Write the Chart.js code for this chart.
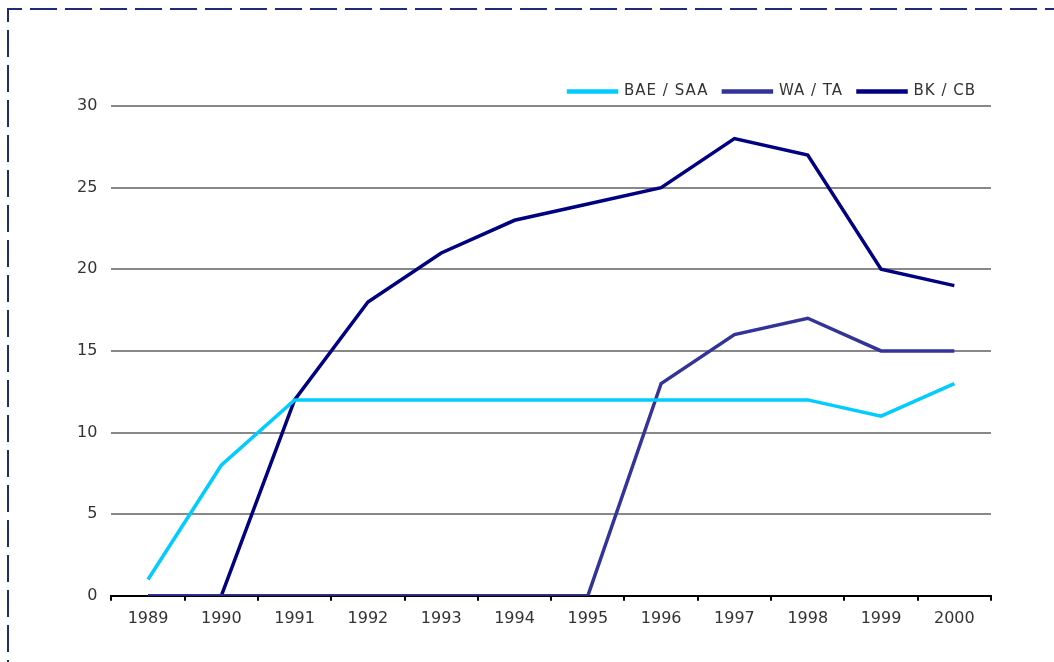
<!DOCTYPE html>
<html>
<head>
<meta charset="utf-8">
<script src="https://cdn.jsdelivr.net/npm/chart.js@4/dist/chart.umd.min.js"></script>
<style>
  html, body { margin: 0; padding: 0; background: #fff; }
  #wrap { position: relative; width: 1054px; height: 662px; }
</style>
</head>
<body>
<div id="wrap"><canvas id="c" width="1054" height="662"></canvas></div>
<script>
const categories = ['1989','1990','1991','1992','1993','1994','1995','1996','1997','1998','1999','2000'];
const baeSaa = [1, 8, 12, 12, 12, 12, 12, 12, 12, 12, 11, 13];
const waTa   = [0, 0, 0, 0, 0, 0, 0, 13, 16, 17, 15, 15];
const bkCb   = [0, 0, 12, 18, 21, 23, 24, 25, 28, 27, 20, 19];
const seriesNames = ['BAE / SAA', 'WA / TA', 'BK / CB'];
const seriesColors = ['#00ccff', '#333399', '#000080'];

const frame = {
  id: 'frame',
  afterDraw(chart) {
    const ctx = chart.ctx;
    ctx.save();
    ctx.strokeStyle = '#1f2a78';
    ctx.lineWidth = 2;
    ctx.setLineDash([27, 8]);
    ctx.lineDashOffset = 13;
    ctx.beginPath();
    ctx.moveTo(8, 9);
    ctx.lineTo(1060, 9);
    ctx.stroke();
    ctx.beginPath();
    ctx.moveTo(8, 8);
    ctx.lineTo(8, 670);
    ctx.stroke();
    ctx.restore();
  }
};

// Letter-spaced legend with a fixed box height
const legendTweak = {
  id: 'legendTweak',
  beforeLayout(chart) {
    const lg = chart.legend;
    if (!lg || lg._tweaked) return;
    lg._tweaked = true;
    const fit = lg.fit.bind(lg);
    const draw = lg.draw.bind(lg);
    lg.fit = function () {
      const ctx = this.ctx;
      ctx.save();
      ctx.letterSpacing = '1px';
      fit();
      ctx.restore();
      this.height = 37;
    };
    lg.draw = function () {
      const ctx = this.ctx;
      ctx.save();
      ctx.letterSpacing = '1px';
      draw();
      ctx.restore();
    };
  }
};

const mk = (i, data) => ({
  label: seriesNames[i],
  data: data,
  borderColor: seriesColors[i],
  backgroundColor: seriesColors[i],
  borderWidth: 3.5,
  pointRadius: 0,
  tension: 0,
  fill: false
});

new Chart(document.getElementById('c'), {
  type: 'line',
  data: {
    labels: categories,
    datasets: [mk(0, baeSaa), mk(1, waTa), mk(2, bkCb)]
  },
  options: {
    responsive: false,
    animation: false,
    layout: { padding: { left: 63, top: 69, right: 63, bottom: 26 } },
    plugins: {
      legend: {
        display: true,
        position: 'top',
        align: 'end',
        labels: {
          boxWidth: 48,
          boxHeight: 1,
          padding: 15,
          color: '#333',
          font: { family: 'DejaVu Sans', size: 15 }
        }
      },
      tooltip: { enabled: false }
    },
    scales: {
      x: {
        offset: true,
        grid: { display: true, drawOnChartArea: false, offset: true, tickLength: 5, color: '#000', lineWidth: 2 },
        border: { display: true, color: '#000', width: 2 },
        ticks: { color: '#333', padding: 8, font: { family: 'DejaVu Sans', size: 16 }, maxRotation: 0 }
      },
      y: {
        min: 0, max: 30,
        ticks: { stepSize: 5, color: '#333', padding: 14, font: { family: 'DejaVu Sans', size: 16 } },
        grid: {
          drawTicks: false,
          color: (c) => c.tick && c.tick.value === 0 ? 'rgba(0,0,0,0)' : '#888',
          lineWidth: 2
        },
        border: { display: false }
      }
    }
  },
  plugins: [legendTweak, frame]
});
</script>
</body>
</html>
